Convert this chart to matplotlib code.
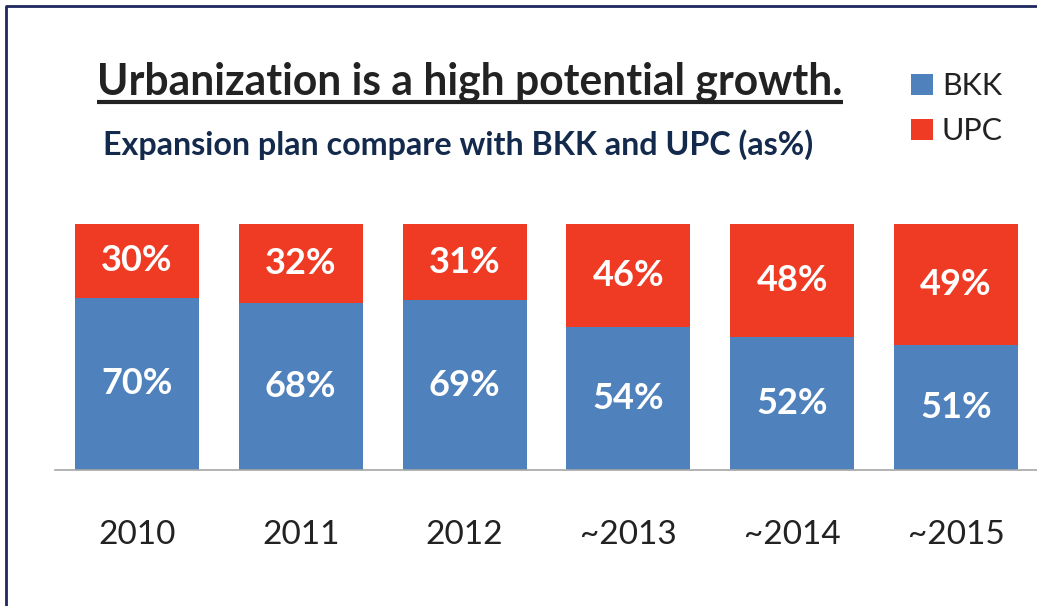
import numpy as np
import matplotlib.pyplot as plt
from matplotlib.lines import Line2D

plt.rcParams['font.family'] = ['Lato', 'DejaVu Sans']

# data
years = ["2010", "2011", "2012", "~2013", "~2014", "~2015"]
bkk_height = [70, 68, 69, 58, 54, 51]    # drawn bar heights (%)
upc_height = [30, 32, 31, 42, 46, 49]
bkk_labels = [70, 68, 69, 54, 52, 51]    # printed labels (%)
upc_labels = [30, 32, 31, 46, 48, 49]

blue = "#4f81bd"
red = "#ef3b24"
W, H = 1037, 606

fig = plt.figure(figsize=(W / 100, H / 100), dpi=100)
ax = fig.add_axes([55 / W, (H - 470) / H, 983 / W, 246 / H])

x = np.arange(len(years))
bars_b = ax.bar(x, bkk_height, width=0.756, color=blue, label="BKK")
bars_u = ax.bar(x, upc_height, width=0.756, bottom=bkk_height, color=red, label="UPC")

# white labels centred in each segment
for i in range(len(years)):
    ax.text(x[i], bkk_height[i] / 2, f"{bkk_labels[i]}%", ha="center", va="center",
            color="white", fontsize=26, fontweight="bold")
    ax.text(x[i], bkk_height[i] + upc_height[i] / 2, f"{upc_labels[i]}%", ha="center",
            va="center", color="white", fontsize=26, fontweight="bold")

ax.set_xlim(-0.5, 5.5)
ax.set_ylim(0, 100)
ax.set_yticks([])
ax.set_xticks(x)
ax.set_xticklabels(years, fontsize=24, color="#222222")
ax.tick_params(axis="x", length=0, pad=36)
for s in ["left", "right", "top"]:
    ax.spines[s].set_visible(False)
ax.spines["bottom"].set_color("#a6a6a6")
ax.spines["bottom"].set_linewidth(1.2)

fig.legend(handles=[bars_b, bars_u], labels=["BKK", "UPC"], loc="upper left",
           bbox_to_anchor=(896 / W, 1 - 57 / H), frameon=False, fontsize=22,
           handlelength=0.7, handleheight=0.7, handletextpad=0.3, labelspacing=0.55,
           borderpad=0, labelcolor="#222222")

# title and subtitle, sized to the widths in the reference
title = fig.text(470 / W, 1 - 94 / H, "Urbanization is a high potential growth.",
                 ha="center", va="baseline", fontsize=30, fontweight="bold", color="#222222")
subtitle = fig.text(458 / W, 1 - 155 / H, "Expansion plan compare with BKK and UPC (as%)",
                    ha="center", va="baseline", fontsize=22, fontweight="bold", color="#142a4c")
fig.canvas.draw()
r = fig.canvas.get_renderer()
for t, target in [(title, 745), (subtitle, 710)]:
    w = t.get_window_extent(r).width
    t.set_fontsize(t.get_fontsize() * target / w)
fig.canvas.draw()

# underline under the title
bb = title.get_window_extent(r)
fig.add_artist(Line2D([bb.x0 / W, bb.x1 / W], [1 - 101.5 / H] * 2, color="#222222",
                      lw=3, solid_capstyle="butt"))

# frame on left and top
fig.add_artist(Line2D([6 / W, 6 / W, 1], [0, 1 - 6 / H, 1 - 6 / H], color="#1f2860", lw=2))

fig.savefig("out.png", dpi=100)
